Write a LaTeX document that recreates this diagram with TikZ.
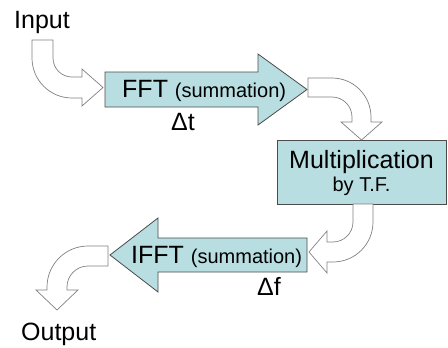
\documentclass[tikz,border=0pt]{standalone}
\usepackage{fontspec}
\setmainfont{Liberation Sans}
\definecolor{tfblue}{RGB}{184,222,225}
\definecolor{edgegray}{RGB}{75,75,75}
\begin{document}
\begin{tikzpicture}[x=1pt,y=-1pt,
    blockarr/.style={draw=edgegray,fill=tfblue,line width=0.8pt,line join=miter},
    bentarr/.style={draw=gray,fill=white,line width=0.7pt},
    big/.style={font=\fontsize{25}{29}\selectfont,inner sep=0pt},
    small/.style={font=\fontsize{20}{23}\selectfont}]
\useasboundingbox (0,0) rectangle (448,348);

% input and output labels
\node[big,anchor=base west] (in) at (14,28) {Input};
\node[big,anchor=base west] (out) at (21,340) {Output};

% forward transform
\draw[blockarr] (105,72)--(258,72)--(258,54)--(307,89.5)--(258,125)--(258,107)--(105,107)--cycle;
\node[big,anchor=base west] (fft) at (122,97) {FFT {\fontsize{20}{23}\selectfont(summation)}};
\node[big,anchor=base] (dt) at (183,130) {Δt};

% multiplication box
\node[draw=edgegray,fill=tfblue,line width=0.8pt,minimum width=169pt,minimum height=64pt,inner sep=0pt] (mult) at (361.5,172) {};
\node[big,anchor=base] (multa) at (361.5,168) {Multiplication};
\node[small,anchor=base,inner sep=0pt] (multb) at (361.5,191) {by T.F.};

% inverse transform
\draw[blockarr] (307,238)--(158,238)--(158,218)--(110,255)--(158,292)--(158,272)--(307,272)--cycle;
\node[big,anchor=base west] (ifft) at (131,263) {IFFT {\fontsize{20}{23}\selectfont(summation)}};
\node[big,anchor=base] (df) at (269,295) {Δf};

% bent arrows
\draw[bentarr] (32,40)--(53,40)--(53,58) .. controls (53,68.5) and (61.5,77) .. (72,77)
    --(82,77)--(82,69)--(103,87.5)--(82,106)--(82,98)--(72,98)
    .. controls (49.9,98) and (32,80.1) .. (32,58)--cycle;
\draw[bentarr] (308,78)--(332,78) .. controls (353.5,78) and (371,95.5) .. (371,117)
    --(371,122)--(382,122)--(361.5,140)--(341,122)--(352,122)--(352,117)
    .. controls (352,106) and (343,97) .. (332,97)--(308,97)--cycle;
\draw[bentarr] (353,204)--(373,204)--(373,222) .. controls (373,244.1) and (355.1,262) .. (333,262)
    --(327,262)--(327,273)--(309,252)--(327,231)--(327,242)--(333,242)
    .. controls (344,242) and (353,233) .. (353,222)--cycle;
\draw[bentarr] (108,246)--(88,246) .. controls (65.4,246) and (47,264.4) .. (47,287)
    --(47,290)--(36,290)--(57,310)--(78,290)--(67,290)--(67,287)
    .. controls (67,275.4) and (76.4,266) .. (88,266)--(108,266)--cycle;
\end{tikzpicture}
\end{document}
